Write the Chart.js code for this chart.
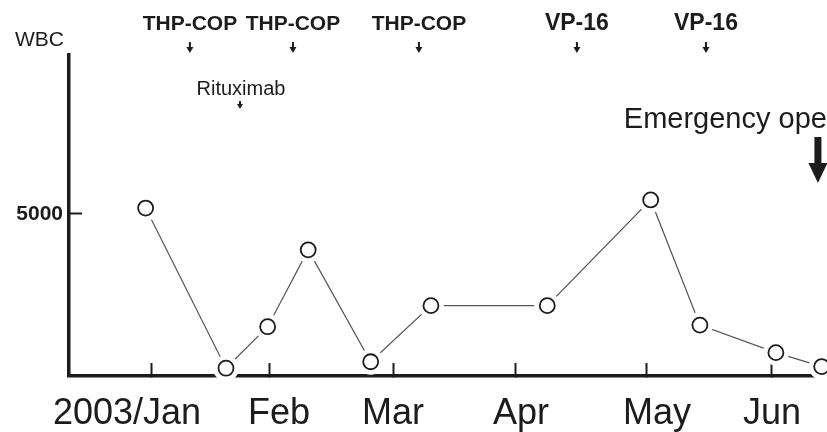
<!DOCTYPE html>
<html>
<head>
<meta charset="utf-8">
<script src="https://cdn.jsdelivr.net/npm/chart.js@4.4.1/dist/chart.umd.min.js"></script>
<style>
    body { margin: 0; background: #fff; }
    #wrap { width: 827px; height: 432px; position: relative; }
</style>
</head>
<body>
<div id="wrap"><canvas id="wbc-chart"></canvas></div>
<script>
// x is measured in months from the 2003/Jan tick
const monthTicks = [0, 0.944, 1.944, 2.935, 3.992, 5.0];
const monthLabels = ['2003/Jan     ', '  Feb', 'Mar', ' Apr', '  May', 'Jun'];
const wbcTicks = [5000];

const sampleDays = [-0.051, 0.597, 0.933, 1.26, 1.764, 2.25, 3.188, 4.022, 4.419, 5.032, 5.401];
const wbcValues = [5180, 240, 1520, 3890, 440, 2170, 2170, 5430, 1570, 720, 290];

// treatment markers along the top
const drugNames = ['THP-COP', 'THP-COP', 'THP-COP', 'VP-16', 'VP-16'];
const drugDays = [0.306, 1.137, 2.153, 3.427, 4.468];
const rituximabDays = [0.71];
const emergencyDay = 5.387;

const points = sampleDays.map((d, i) => ({ x: d, y: wbcValues[i] }));

// draws a small filled down arrow
function downArrow(ctx, x, top, len, headW, headH, stemW) {
    ctx.fillRect(x - stemW / 2, top, stemW, len - headH + 1);
    ctx.beginPath();
    ctx.moveTo(x - headW / 2, top + len - headH);
    ctx.lineTo(x + headW / 2, top + len - headH);
    ctx.lineTo(x, top + len);
    ctx.closePath();
    ctx.fill();
}

const annotations = {
    id: 'annotations',
    afterDraw(chart) {
        const ctx = chart.ctx;
        const xs = chart.scales.x;
        const area = chart.chartArea;
        ctx.save();
        ctx.fillStyle = '#1c1c1c';
        ctx.textBaseline = 'middle';

        // axis title
        ctx.font = '21px "Liberation Sans", Arial, sans-serif';
        ctx.textAlign = 'right';
        ctx.fillText('WBC', area.left - 5, area.top - 15);

        // chemo courses
        ctx.textAlign = 'center';
        drugNames.forEach((name, i) => {
            const px = xs.getPixelForValue(drugDays[i]);
            ctx.font = name === 'VP-16'
                ? 'bold 23px "Liberation Sans", Arial, sans-serif'
                : 'bold 21px "Liberation Sans", Arial, sans-serif';
            ctx.fillText(name, px, 24);
            downArrow(ctx, px, 42, 11, 7, 6, 2);
        });

        // rituximab
        ctx.font = '20px "Liberation Sans", Arial, sans-serif';
        rituximabDays.forEach(d => {
            const px = xs.getPixelForValue(d);
            ctx.fillText('Rituximab', px + 1, 89);
            downArrow(ctx, px, 101, 8, 6, 5, 2);
        });

        // emergency operation
        const ex = xs.getPixelForValue(emergencyDay);
        ctx.font = '29px "Liberation Sans", Arial, sans-serif';
        ctx.textAlign = 'right';
        ctx.fillText('Emergency ope', ex + 7, 120);
        downArrow(ctx, ex - 2, 137, 46, 19, 20, 7);

        ctx.restore();
    }
};

new Chart(document.getElementById('wbc-chart'), {
    type: 'scatter',
    data: {
        datasets: [
            {
                // white halo round each circle, so the line stops short of it
                data: points,
                showLine: true,
                borderColor: '#555',
                borderWidth: 1.2,
                pointRadius: 13,
                pointHoverRadius: 13,
                pointBackgroundColor: '#fff',
                pointBorderWidth: 0,
                clip: false,
                order: 1
            },
            {
                data: points,
                showLine: false,
                pointRadius: 7.5,
                pointHoverRadius: 7.5,
                pointBackgroundColor: '#fff',
                pointBorderColor: '#1c1c1c',
                pointBorderWidth: 1.8,
                clip: false,
                order: 0
            }
        ]
    },
    options: {
        responsive: true,
        maintainAspectRatio: false,
        animation: false,
        layout: { autoPadding: false, padding: { top: 55, right: 0, left: 0, bottom: 0 } },
        plugins: {
            legend: { display: false },
            tooltip: { enabled: false }
        },
        scales: {
            x: {
                type: 'linear',
                min: -0.669,
                max: 5.444,
                z: 1,
                afterBuildTicks: scale => { scale.ticks = monthTicks.map(v => ({ value: v })); },
                afterFit: scale => {
                    scale.height = 56;
                    scale.paddingLeft = 0;
                    scale.paddingRight = 0;
                },
                border: { display: true, color: '#1c1c1c', width: 3.5 },
                grid: { drawOnChartArea: false, drawTicks: true, tickLength: -13, tickWidth: 2, tickColor: '#1c1c1c' },
                ticks: {
                    autoSkip: false,
                    maxRotation: 0,
                    padding: 29,
                    color: '#1c1c1c',
                    font: { family: '"Liberation Sans", Arial, sans-serif', size: 36 },
                    callback: (value, index) => monthLabels[index]
                }
            },
            y: {
                min: 0,
                max: 9900,
                z: 1,
                afterBuildTicks: scale => { scale.ticks = wbcTicks.map(v => ({ value: v })); },
                afterFit: scale => {
                    scale.width = 69;
                    scale.paddingTop = 0;
                    scale.paddingBottom = 0;
                },
                border: { display: true, color: '#1c1c1c', width: 3.5 },
                grid: { drawOnChartArea: false, drawTicks: true, tickLength: -13, tickWidth: 2, tickColor: '#1c1c1c' },
                ticks: {
                    padding: 19,
                    color: '#1c1c1c',
                    font: { family: '"Liberation Sans", Arial, sans-serif', size: 21, weight: 'bold' },
                    callback: value => String(value)
                }
            }
        }
    },
    plugins: [annotations]
});
</script>
</body>
</html>
